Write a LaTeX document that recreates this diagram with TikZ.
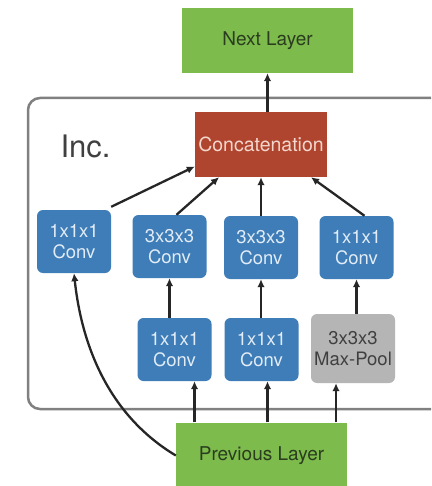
\documentclass[tikz,border=0pt]{standalone}
\usepackage{fontspec}
\setmainfont{TeX Gyre Heros}
\usetikzlibrary{arrows.meta,calc}
\definecolor{grn}{HTML}{7DBB4D}
\definecolor{grntxt}{HTML}{2A3D1E}
\definecolor{blu}{HTML}{3E7DB8}
\definecolor{blutxt}{HTML}{E2ECF6}
\definecolor{red}{HTML}{B0452F}
\definecolor{redtxt}{HTML}{F3D6CD}
\definecolor{gry}{HTML}{B5B5B5}
\definecolor{grytxt}{HTML}{404040}
\begin{document}
\begin{tikzpicture}[x=1pt,y=-1pt,
  box/.style={rectangle, inner sep=0pt, align=center, font=\fontsize{18.5}{21}\selectfont},
  layer/.style={box, fill=grn, text=grntxt, minimum width=171pt, minimum height=65pt},
  conv/.style={box, fill=blu, text=blutxt, rounded corners=6pt, minimum width=74pt, minimum height=63pt},
  arr/.style={-{Latex[length=8pt,width=7.5pt]}, line width=2.3pt, draw=black!85}]
\clip (0,0) rectangle (431,486);
\fill[white] (0,0) rectangle (431,486);
\draw[line width=2.5pt, draw=black!50, rounded corners=12pt] (28,98) rectangle (450,409);
\node[anchor=base west, font=\fontsize{31}{36}\selectfont, text=black!75] (inc) at (57,158) {Inc.};
\node[layer, font=\fontsize{19}{22}\selectfont] (next) at (267.5,40.5) {Next Layer};
\node[box, fill=red, text=redtxt, minimum width=132pt, minimum height=65pt, font=\fontsize{19.5}{22}\selectfont] (concat) at (261,144.5) {Concatenation};
\node[conv] (c1) at (74,241.5) {1x1x1\\Conv};
\node[conv] (c2) at (169.5,246.5) {3x3x3\\Conv};
\node[conv] (c3) at (261,247.5) {3x3x3\\Conv};
\node[conv] (c4) at (356.5,247.5) {1x1x1\\Conv};
\node[conv] (r1) at (174.5,349.5) {1x1x1\\Conv};
\node[conv] (r2) at (261.5,349.5) {1x1x1\\Conv};
\node[box, fill=gry, text=grytxt, rounded corners=6pt, minimum width=84pt, minimum height=69pt] (pool) at (353,348.5) {3x3x3\\Max-Pool};
\node[layer, minimum height=66pt, font=\fontsize{19}{22}\selectfont] (prev) at (261.5,455.5) {Previous Layer};
% connectors
\draw[arr] (concat.north -| next.south) -- (next.south);
\draw[arr] ([yshift=3pt]c1.north east) -- ([yshift=-22pt]concat.west);
\draw[arr] ([xshift=7pt]c2.north) -- ([xshift=-42pt]concat.south);
\draw[arr] (c3.north) -- (c3.north |- concat.south);
\draw[arr] ([xshift=8pt]c4.north) -- ([xshift=50pt]concat.south);
\draw[arr] (r1.north -| c2.south) -- (c2.south);
\draw[arr] (r2.north -| c3.south) -- (c3.south);
\draw[arr] (pool.north -| c4.south) -- (c4.south);
\draw[arr] ([xshift=20pt]r1.south |- prev.north) -- ([xshift=20pt]r1.south);
\draw[arr] ([xshift=6pt]r2.south |- prev.north) -- ([xshift=6pt]r2.south);
\draw[arr] ([xshift=-17pt]pool.south |- prev.north) -- ([xshift=-17pt]pool.south);
\draw[arr] (prev.west) .. controls (100,410) and (80,330) .. (c1.south);
\end{tikzpicture}
\end{document}
